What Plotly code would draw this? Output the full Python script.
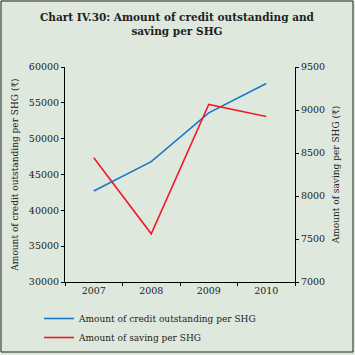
import plotly.graph_objects as go

years = ["2007", "2008", "2009", "2010"]
credit_outstanding = [42700, 46800, 53600, 57700]
saving = [8445, 7560, 9065, 8925]

left_ticks = [30000, 35000, 40000, 45000, 50000, 55000, 60000]
right_ticks = [7000, 7500, 8000, 8500, 9000, 9500]

TITLE = "<b>Chart IV.30: Amount of credit outstanding and<br>saving per SHG</b>"

BG = "#dfe8dc"
FONT = "DejaVu Serif"

W, H = 355, 355
ML, MR, MT, MB = 65, 60, 67, 73
PW, PH = W - ML - MR, H - MT - MB

def px_x(x):
    return (x - ML) / PW

def px_y(y):
    return (H - MB - y) / PH

fig = go.Figure()
fig.add_trace(go.Scatter(
    x=years, y=credit_outstanding, mode="lines",
    name="Amount of credit outstanding per SHG",
    line=dict(color="#1a78c8", width=1.6), yaxis="y",
))
fig.add_trace(go.Scatter(
    x=years, y=saving, mode="lines",
    name="Amount of saving per SHG",
    line=dict(color="#ee1c2e", width=1.6), yaxis="y2",
))

axis_common = dict(showline=True, linecolor="black", linewidth=1, ticks="outside",
                   ticklen=3, tickcolor="black", showgrid=False, zeroline=False,
                   automargin=False,
                   tickfont=dict(family=FONT, size=9.5, color="#222"))

fig.update_layout(
    width=W, height=H,
    margin=dict(l=ML, r=MR, t=MT, b=MB, autoexpand=False),
    paper_bgcolor=BG, plot_bgcolor=BG,
    font=dict(family=FONT, size=9, color="#222"),
    xaxis=dict(type="category", tickson="boundaries", range=[-0.5, len(years) - 0.5],
               **axis_common),
    yaxis=dict(range=[30000, 60000], tickvals=left_ticks,
               ticktext=[str(v) for v in left_ticks],
               title=dict(text="Amount of credit outstanding per SHG (₹)",
                          font=dict(family=FONT, size=9, color="#222"), standoff=8),
               **axis_common),
    yaxis2=dict(range=[7000, 9500], tickvals=right_ticks,
                ticktext=[str(v) for v in right_ticks],
                overlaying="y", side="right",
                title=dict(text="Amount of saving per SHG (₹)",
                           font=dict(family=FONT, size=9, color="#222"), standoff=8),
                **axis_common),
    showlegend=True,
    legend=dict(x=px_x(39), y=px_y(304), xanchor="left", yanchor="top",
                bgcolor="rgba(0,0,0,0)", font=dict(family=FONT, size=9, color="#222"),
                itemwidth=30, tracegroupgap=0),
    annotations=[dict(text=TITLE, xref="paper", yref="paper",
                      x=px_x(177.5), y=px_y(23.5), xanchor="center", yanchor="middle",
                      showarrow=False, align="center",
                      font=dict(family=FONT, size=10.5, color="#222"))],
    shapes=[dict(type="rect", xref="paper", yref="paper",
                 x0=px_x(1), x1=px_x(353), y0=px_y(352), y1=px_y(1),
                 line=dict(color="#222", width=1), fillcolor="rgba(0,0,0,0)",
                 layer="below")],
)

fig.write_html("out.html", config={"displayModeBar": False},
               post_script="document.body.style.margin='0';document.body.style.overflow='hidden';")
